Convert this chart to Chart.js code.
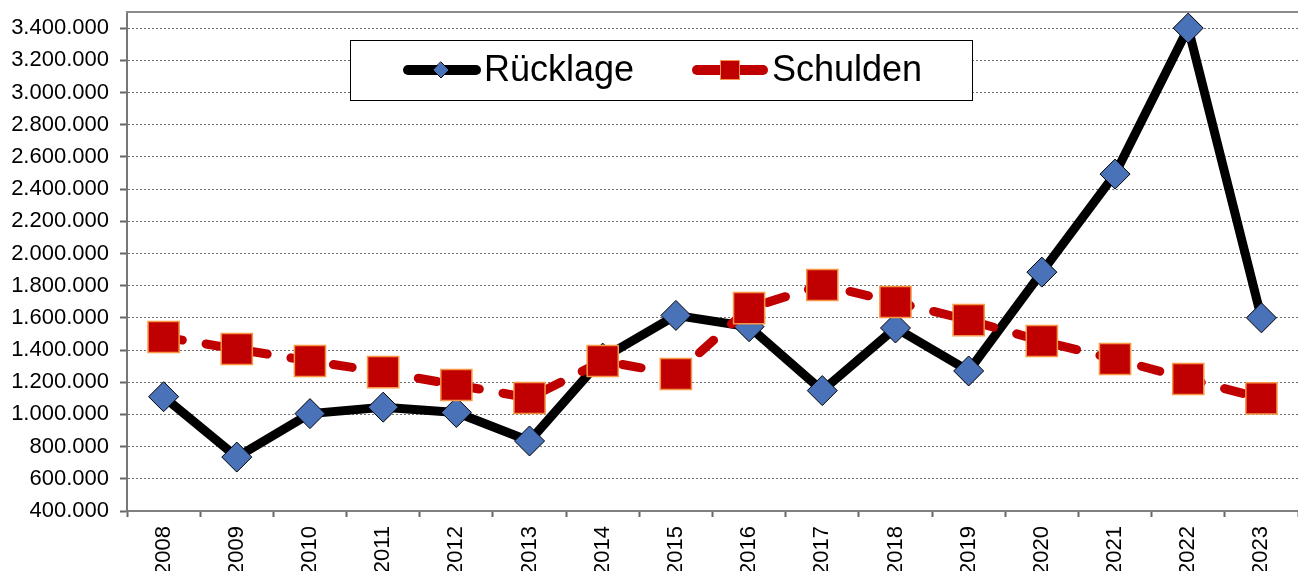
<!DOCTYPE html>
<html>
<head>
<meta charset="utf-8">
<script src="https://cdn.jsdelivr.net/npm/chart.js@4"></script>
<style>
    body { margin: 0; overflow: hidden; background: #fff; }
    #wrap { width: 1298px; height: 571px; position: relative; }
</style>
</head>
<body>
<div id="wrap"><canvas id="chart"></canvas></div>
<script>
const years = ["2008", "2009", "2010", "2011", "2012", "2013", "2014", "2015",
    "2016", "2017", "2018", "2019", "2020", "2021", "2022", "2023"];
const ruecklage = [1110000, 735000, 1005000, 1045000, 1012000, 835000, 1350000, 1615000,
    1545000, 1148000, 1537000, 1270000, 1884000, 2493000, 3400000, 1600000];
const schulden = [1481000, 1406000, 1332000, 1263000, 1183000, 1102000, 1332000, 1251000,
    1660000, 1804000, 1698000, 1586000, 1456000, 1344000, 1220000, 1100000];
const yTicks = [400000, 600000, 800000, 1000000, 1200000, 1400000, 1600000, 1800000,
    2000000, 2200000, 2400000, 2600000, 2800000, 3000000, 3200000, 3400000];

const FONT = "Arial, 'Liberation Sans', sans-serif";

// 1.234.567 style
const fmt = (v) => String(Math.round(v)).replace(/\B(?=(\d{3})+(?!\d))/g, ".");

const legendBox = {
    id: "legendBox",
    afterDraw: (chart) => {
        const ctx = chart.ctx;
        ctx.save();
        ctx.fillStyle = "#fff";
        ctx.fillRect(350, 40, 622, 60);
        ctx.strokeStyle = "#000";
        ctx.lineWidth = 1;
        ctx.strokeRect(350.5, 40.5, 622, 60);

        const y = 70;
        ctx.lineCap = "round";
        ctx.lineWidth = 10;
        // Rücklage
        ctx.strokeStyle = "#000";
        ctx.beginPath();
        ctx.moveTo(408, y);
        ctx.lineTo(476, y);
        ctx.stroke();
        ctx.fillStyle = "#4a72b8";
        ctx.lineWidth = 1;
        ctx.beginPath();
        ctx.moveTo(441, y - 8);
        ctx.lineTo(449, y);
        ctx.lineTo(441, y + 8);
        ctx.lineTo(433, y);
        ctx.closePath();
        ctx.fill();
        ctx.stroke();
        // Schulden
        ctx.lineWidth = 10;
        ctx.strokeStyle = "#c00000";
        ctx.beginPath();
        ctx.moveTo(697, y);
        ctx.lineTo(763, y);
        ctx.stroke();
        ctx.fillStyle = "#c00000";
        ctx.strokeStyle = "#f79646";
        ctx.lineWidth = 1;
        ctx.fillRect(720, y - 10, 20, 20);
        ctx.strokeRect(720.5, y - 9.5, 19, 19);

        ctx.fillStyle = "#000";
        ctx.font = "36px " + FONT;
        ctx.textBaseline = "middle";
        ctx.textAlign = "left";
        ctx.fillText("Rücklage", 484, y + 1);
        ctx.fillText("Schulden", 772, y + 1);

        // top frame line
        const a = chart.chartArea;
        ctx.strokeStyle = "#8c8c8c";
        ctx.lineWidth = 2;
        ctx.beginPath();
        ctx.moveTo(a.left, a.top);
        ctx.lineTo(a.right, a.top);
        ctx.stroke();
        ctx.restore();
    },
};

const ctx = document.getElementById("chart").getContext("2d");
new Chart(ctx, {
    type: "line",
    data: {
        labels: years,
        datasets: [
            {
                label: "Rücklage",
                data: ruecklage,
                order: 1,
                borderColor: "#000",
                borderWidth: 9,
                borderJoinStyle: "round",
                tension: 0,
                pointStyle: "rectRot",
                pointRadius: 15,
                pointBackgroundColor: "#4a72b8",
                pointBorderColor: "#000",
                pointBorderWidth: 1,
                clip: false,
            },
            {
                label: "Schulden",
                data: schulden,
                order: 0,
                borderColor: "#c00000",
                borderWidth: 9,
                borderDash: [19, 24],
                borderCapStyle: "round",
                tension: 0,
                pointStyle: "rect",
                pointRadius: 22,
                pointBackgroundColor: "#c00000",
                pointBorderColor: "#f79646",
                pointBorderWidth: 1.5,
                clip: false,
            },
        ],
    },
    options: {
        responsive: true,
        maintainAspectRatio: false,
        animation: false,
        layout: { autoPadding: false, padding: { top: 12, right: 0, left: 0, bottom: 0 } },
        plugins: {
            legend: { display: false },
            tooltip: { enabled: false },
        },
        scales: {
            x: {
                offset: true,
                grid: {
                    offset: true,
                    drawOnChartArea: false,
                    drawTicks: true,
                    tickLength: 6,
                    tickColor: "#666",
                    tickWidth: 2,
                },
                border: { color: "#808080", width: 2 },
                ticks: {
                    autoSkip: false,
                    minRotation: 90,
                    maxRotation: 90,
                    padding: 9,
                    color: "#000",
                    font: { family: FONT, size: 22 },
                },
                afterFit: (scale) => {
                    scale.height = 60;
                    scale.paddingLeft = 0;
                    scale.paddingRight = 0;
                },
            },
            y: {
                min: 400000,
                max: 3500000,
                grid: {
                    color: "#707070",
                    lineWidth: 1,
                    tickColor: "#666",
                    tickLength: 7,
                    tickWidth: 2,
                },
                border: { color: "#777", width: 2, dash: [2, 2] },
                ticks: {
                    padding: 11,
                    color: "#000",
                    font: { family: FONT, size: 22 },
                    callback: (value) => fmt(value),
                },
                afterBuildTicks: (scale) => {
                    scale.ticks = yTicks.map((v) => ({ value: v }));
                },
                afterFit: (scale) => {
                    scale.width = 127;
                    scale.paddingTop = 0;
                    scale.paddingBottom = 0;
                },
            },
        },
    },
    plugins: [legendBox],
});
</script>
</body>
</html>
